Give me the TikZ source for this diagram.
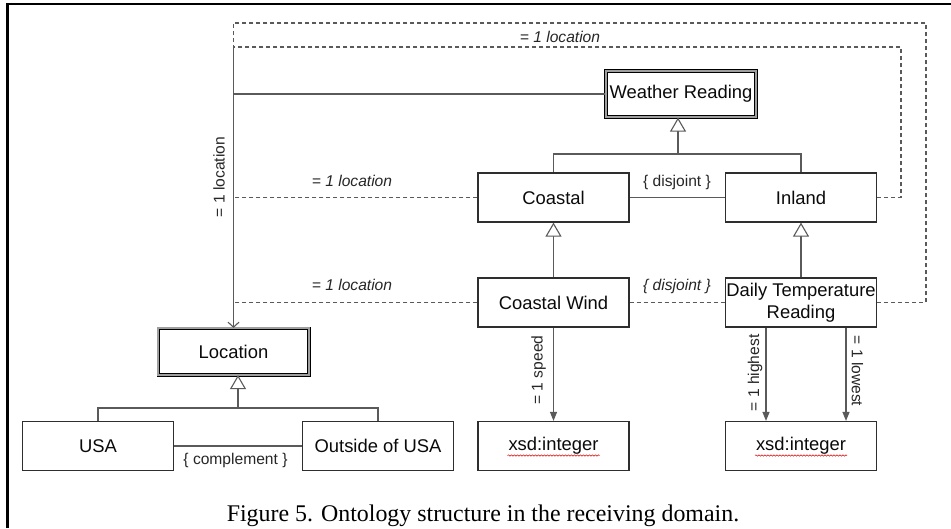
\documentclass[tikz,border=0pt]{standalone}
\usepackage{fontspec}
\setmainfont{Liberation Serif}
\setsansfont{Liberation Sans}
\usetikzlibrary{arrows.meta,decorations.pathmorphing}

\definecolor{boxc}{HTML}{2E2E2E}
\definecolor{linec}{HTML}{5A5A5A}
\definecolor{txt}{HTML}{0A0A0A}
\definecolor{lbl}{HTML}{262626}

\begin{document}
\begin{tikzpicture}[x=1pt,y=-1pt,
  cls/.style={draw=boxc, line width=1.2pt, minimum width=151pt, minimum height=49pt,
    inner sep=0pt, align=center, text=txt,
    font=\sffamily\fontsize{18.4}{22.5}\selectfont},
  rootcls/.style={cls, draw=black, line width=0.8pt, double=gray!75, double distance=2pt,
    minimum width=150.4pt, minimum height=46.4pt},
  conn/.style={draw=linec, line width=1.1pt},
  assoc/.style={draw=linec, line width=1.1pt, dash pattern=on 4pt off 3pt},
  gen/.style={conn, -{Triangle[length=14pt,width=16pt,fill=white]}},
  prop/.style={conn, -{Triangle[length=9pt,width=7pt]}},
  lbl/.style={text=lbl, inner sep=0pt, font=\sffamily\fontsize{15.6}{18}\selectfont},
  ilbl/.style={lbl, font=\sffamily\itshape\fontsize{15.6}{18}\selectfont},
  squiggle/.style={draw=red!85!black, line width=0.5pt, decorate,
    decoration={snake, amplitude=0.7pt, segment length=3pt}}
]
\useasboundingbox (0,0) rectangle (951,528);

% frame (top and left rules)
\draw[line width=2.2pt] (7.5,528) -- (7.5,4) -- (951,4);

% classes
\node[rootcls] (wr)  at (681,94)    {Weather Reading};
\node[cls]     (co)  at (553.5,197.5) {Coastal};
\node[cls]     (in)  at (801,197.5) {Inland};
\node[cls]     (cw)  at (553.5,302.5) {Coastal Wind};
\node[cls]     (dtr) at (801,302.5) {Daily Temperature\\Reading};
\node[rootcls] (loc) at (233.5,351.5) {Location};
\node[cls]     (usa) at (98,446)    {USA};
\node[cls]     (out) at (378,446)   {Outside of USA};
\node[cls]     (x1)  at (553.5,446) {xsd:integer};
\node[cls]     (x2)  at (801,446)   {xsd:integer};

% spell-check underline of the datatype names
\draw[squiggle] (x1.center) ++(-46,9.5) -- ++(92,0);
\draw[squiggle] (x2.center) ++(-46,9.5) -- ++(92,0);

% routing points of the location associations
\coordinate (tA) at (233.5,23);
\coordinate (tB) at (233.5,47);
\coordinate (rA) at (926,23);
\coordinate (rB) at (901,47);

% dashed associations to Location
\draw[assoc] (dtr.east) -- (dtr.east -| rA) -- (rA) -- (tA) -- (tB);
\draw[assoc] (in.east) -- (in.east -| rB) -- (rB) -- (tB);
\draw[assoc] (co.west) -- (co.west -| tB);
\draw[assoc] (cw.west) -- (cw.west -| tB);
\draw[assoc] (cw.east) -- (dtr.west);

% solid association Weather Reading -> Location
\draw[conn] (wr.west) -- (wr.west -| tB);
\draw[conn, -{Straight Barb[length=5pt,width=11pt]}] (tB) -- (loc.north);

% association labels
\node[ilbl] (l1) at (560,37)  {= 1 location};
\node[ilbl] (l2) at (352,181) {= 1 location};
\node[ilbl] (l3) at (352,285) {= 1 location};
\node[lbl, rotate=90] (l4) at (219,177) {= 1 location};

% disjointness / complement constraints
\draw[conn] (co.east) -- (in.west);
\node[lbl]  (d1) at (677,182) {\{ disjoint \}};
\node[ilbl] (d2) at (677,286) {\{ disjoint \}};
\draw[conn] (usa.east) -- (out.west);
\node[lbl]  (c1) at (235.5,460.5) {\{ complement \}};

% generalisation: Weather Reading
\coordinate (wrj) at (678,154);
\draw[conn] (co.north) -- (co.north |- wrj) -- (in.north |- wrj) -- (in.north);
\draw[gen] (wrj) -- (wrj |- wr.south);

% generalisation: Coastal, Inland
\draw[gen] (cw.north) -- (co.south);
\draw[gen] (dtr.north) -- (in.south);

% generalisation: Location
\coordinate (locj) at (238,408);
\draw[conn] (usa.north) -- (usa.north |- locj) -- (out.north |- locj) -- (out.north);
\draw[gen] (locj) -- (locj |- loc.south);

% datatype properties
\draw[prop] (cw.south) -- (x1.north);
\node[lbl, rotate=90] (p1) at (538.5,370) {= 1 speed};
\coordinate (h0) at (766,326);
\coordinate (w0) at (846,326);
\draw[prop] (h0 |- dtr.south) -- (h0 |- x2.north);
\draw[prop] (w0 |- dtr.south) -- (w0 |- x2.north);
\node[lbl, rotate=90]  (p2) at (755,373) {= 1 highest};
\node[lbl, rotate=-90] (p3) at (857.5,371) {= 1 lowest};

% caption
\node[anchor=base, inner sep=0pt, font=\rmfamily\fontsize{23.9}{28}\selectfont]
  (cap) at (483,521.5) {Figure 5. Ontology structure in the receiving domain.};
\end{tikzpicture}
\end{document}
